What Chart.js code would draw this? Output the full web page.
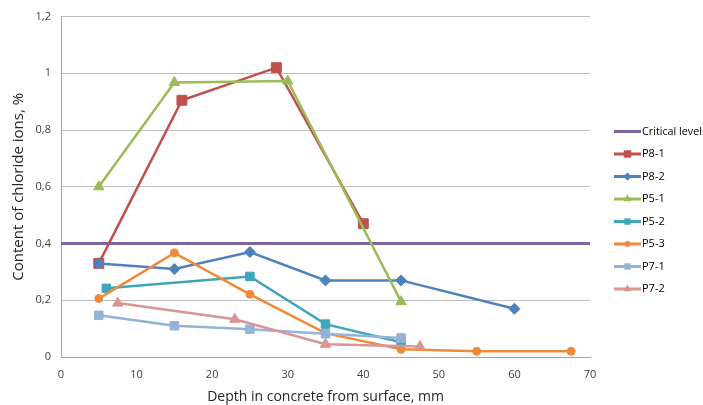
<!DOCTYPE html>
<html lang="en">
<head>
  <meta charset="UTF-8" />
  <title>Chloride ions content</title>
  <script src="https://cdn.jsdelivr.net/npm/chart.js"></script>
  <style>
    *{margin:0;padding:0;box-sizing:border-box}
    body,html{width:703px;height:405px;background:#fff;overflow:hidden}
    .wrap{position:relative;width:703px;height:405px}
  </style>
</head>
<body>
  <div class="wrap"><canvas id="chart" width="703" height="405"></canvas></div>

  <script>
    // depth (mm) and chloride content (%) per sample
    const seriesNames = ['Critical level','P8-1','P8-2','P5-1','P5-2','P5-3','P7-1','P7-2'];

    const critX = [0, 70];
    const critY = [0.4, 0.4];

    const p81X = [5, 16, 28.5, 40];
    const p81Y = [0.33, 0.905, 1.02, 0.47];

    const p82X = [5, 15, 25, 35, 45, 60];
    const p82Y = [0.33, 0.31, 0.37, 0.27, 0.27, 0.17];

    const p51X = [5, 15, 30, 45];
    const p51Y = [0.6, 0.968, 0.973, 0.195];

    const p52X = [6, 25, 35, 45];
    const p52Y = [0.242, 0.284, 0.116, 0.052];

    const p53X = [5, 15, 25, 35, 45, 55, 67.5];
    const p53Y = [0.206, 0.367, 0.221, 0.084, 0.027, 0.02, 0.02];

    const p71X = [5, 15, 25, 35, 45];
    const p71Y = [0.147, 0.11, 0.098, 0.082, 0.067];

    const p72X = [7.5, 23, 35, 47.5];
    const p72Y = [0.19, 0.133, 0.045, 0.037];

    const xTicks = [0, 10, 20, 30, 40, 50, 60, 70];
    const yTicks = [0, 0.2, 0.4, 0.6, 0.8, 1, 1.2];

    const pts = (xs, ys) => xs.map((x, i) => ({x: x, y: ys[i]}));
    const comma = v => String(Number(v.toFixed(1))).replace('.', ',');

    const styles = [
      {color:'#8064A2', shape:null,      r:0,   w:3},
      {color:'#C0504D', shape:'rect',    r:7,   w:2.5},
      {color:'#4F81BD', shape:'rectRot', r:5.5, w:2.5},
      {color:'#9BBB59', shape:'triangle',r:6,   w:2.5},
      {color:'#40A5B9', shape:'rect',    r:6,   w:2.5},
      {color:'#F0893B', shape:'circle',  r:4,   w:2.5},
      {color:'#95B3D7', shape:'rect',    r:6,   w:2.5},
      {color:'#D99694', shape:'triangle',r:6,   w:2.5}
    ];
    const allData = [
      pts(critX, critY), pts(p81X, p81Y), pts(p82X, p82Y), pts(p51X, p51Y),
      pts(p52X, p52Y), pts(p53X, p53Y), pts(p71X, p71Y), pts(p72X, p72Y)
    ];

    const datasets = seriesNames.map((name, i) => ({
      label: name,
      data: allData[i],
      borderColor: styles[i].color,
      backgroundColor: styles[i].color,
      borderWidth: styles[i].w,
      pointStyle: styles[i].shape || false,
      pointRadius: styles[i].r,
      pointBorderWidth: 1,
      showLine: true,
      tension: 0,
      order: 20 - i
    }));

    function marker(ctx, shape, x, y, r) {
      ctx.beginPath();
      if (shape === 'rect') {
        const s = Math.SQRT1_2 * r;
        ctx.rect(x - s, y - s, 2 * s, 2 * s);
      } else if (shape === 'rectRot') {
        ctx.moveTo(x, y - r); ctx.lineTo(x + r, y); ctx.lineTo(x, y + r); ctx.lineTo(x - r, y);
        ctx.closePath();
      } else if (shape === 'triangle') {
        ctx.moveTo(x, y - r);
        ctx.lineTo(x + r * Math.sin(Math.PI / 3), y + r * 0.5);
        ctx.lineTo(x - r * Math.sin(Math.PI / 3), y + r * 0.5);
        ctx.closePath();
      } else if (shape === 'circle') {
        ctx.arc(x, y, r, 0, Math.PI * 2);
      }
      ctx.fill();
    }

    // legend at the right with line + marker samples
    const sideLegend = {
      id: 'sideLegend',
      afterDraw(chart) {
        const ctx = chart.ctx;
        ctx.save();
        ctx.font = '11px "Open Sans"';
        ctx.textBaseline = 'middle';
        seriesNames.forEach((name, i) => {
          const y = 131.5 + i * 22.5;
          const st = styles[i];
          ctx.strokeStyle = st.color;
          ctx.fillStyle = st.color;
          ctx.lineWidth = 3;
          ctx.beginPath(); ctx.moveTo(614, y); ctx.lineTo(641, y); ctx.stroke();
          if (st.shape) marker(ctx, st.shape, 627.5, y, st.r * 0.75);
          ctx.fillStyle = '#000';
          ctx.fillText(name, 642, y, 60);
        });
        ctx.restore();
      }
    };

    new Chart(document.getElementById('chart'), {
      type: 'scatter',
      data: { datasets: datasets },
      plugins: [sideLegend],
      options: {
        responsive: false,
        animation: false,
        layout: { padding: { top: 15, right: 113, left: 0, bottom: 0 } },
        plugins: { legend: { display: false }, tooltip: { enabled: false } },
        scales: {
          x: {
            type: 'linear', min: 0, max: 70,
            afterBuildTicks: s => { s.ticks = xTicks.map(v => ({value: v})); },
            afterFit: s => { s.height = 48; },
            grid: { display: false },
            border: { color: '#A6A6A6', width: 1 },
            ticks: { color: '#404040', font: { family: 'Open Sans', size: 11 }, padding: 3 },
            title: { display: true, text: 'Depth in concrete from surface, mm', color: '#262626',
                     font: { family: 'Open Sans', size: 14 }, padding: { top: 2, bottom: 0 } }
          },
          y: {
            type: 'linear', min: 0, max: 1.2,
            afterBuildTicks: s => { s.ticks = yTicks.map(v => ({value: v})); },
            afterFit: s => { s.width = 61; },
            grid: { color: '#BFBFBF', lineWidth: 1, drawTicks: false },
            border: { color: '#A6A6A6', width: 1 },
            ticks: { color: '#404040', font: { family: 'Open Sans', size: 11 }, padding: 10,
                     callback: v => comma(v) },
            title: { display: true, text: 'Content of chloride ions, %', color: '#262626',
                     font: { family: 'Open Sans', size: 15 }, padding: { top: 10, bottom: 6 } }
          }
        }
      }
    });
  </script>
</body>
</html>
